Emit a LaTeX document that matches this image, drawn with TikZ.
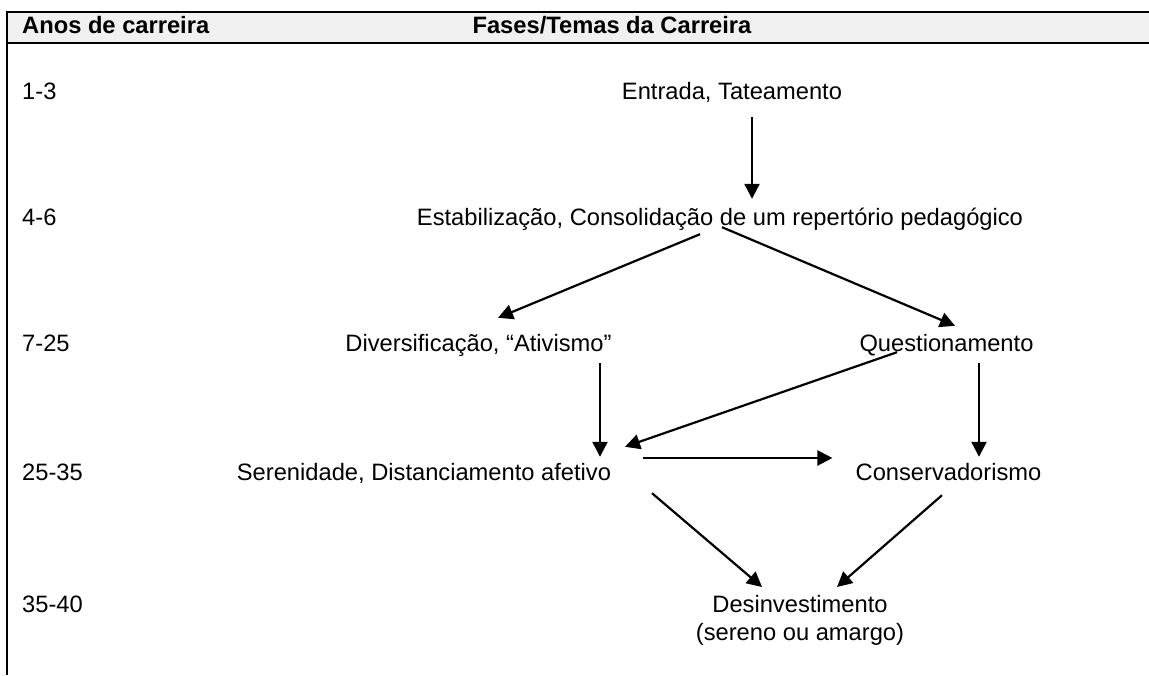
\documentclass[tikz,border=0pt]{standalone}
\usepackage{fontspec}
\setmainfont{Liberation Sans}
\usetikzlibrary{arrows.meta,positioning}

\begin{document}
\begin{tikzpicture}[x=1pt, y=-1pt,
    every node/.style={inner sep=0pt, text height=17pt, text depth=5pt,
      font=\fontsize{23.7}{28}\selectfont},
    phase/.style={anchor=base},
    years/.style={anchor=base west},
    head/.style={font=\fontsize{23.7}{28}\selectfont\bfseries},
    arr/.style={-{Triangle[length=15pt,width=15pt]}, line width=2.2pt}]
      %\draw[help lines, step=50] (0,0) grid (1149,675);
      \useasboundingbox (0,0) rectangle (1149,675);

      % header band
      \fill[black!6] (7,12) rectangle (1149,43);
      \draw[line width=2pt] (1149,12) -- (7,12) -- (7,675);
      \draw[line width=2pt] (7,43) -- (1149,43);
      \node [head, years] (hyears) at (22,33) {Anos de carreira};
      \node [head, phase] (hphases) at (612,33) {Fases/Temas da Carreira};

      \node [years] (y1) at (22,99)  {1-3};
      \node [years] (y2) at (22,225) {4-6};
      \node [years] (y3) at (22,351) {7-25};
      \node [years] (y4) at (22,480) {25-35};
      \node [years] (y5) at (22,612) {35-40};

      \node [phase] (entrada) at (732,99)   {Entrada, Tateamento};
      \node [phase] (estab)   at (720,225)  {Estabilização, Consolidação de um repertório pedagógico};
      \node [phase] (divers)  at (478.5,351) {Diversificação, “Ativismo”};
      \node [phase] (quest)   at (946.5,351) {Questionamento};
      \node [phase] (seren)   at (424,480)  {Serenidade, Distanciamento afetivo};
      \node [phase] (conserv) at (948.5,480) {Conservadorismo};
      \node [anchor=north, align=center, text height=, text depth=] (desinv) at (800,595)
            {Desinvestimento\\(sereno ou amargo)};

      \draw[arr] ([shift={(20,13)}]entrada.south) -- ([shift={(32,-9)}]estab.north);
      \draw[arr] ([shift={(-20,4)}]estab.south) -- ([shift={(19.5,-16)}]divers.north);
      \draw[arr] ([shift={(2,-3)}]estab.south) -- ([shift={(8.5,-8)}]quest.north);
      \draw[arr] ([shift={(121.5,7)}]divers.south) -- ([shift={(176,-6)}]seren.north);
      \draw[arr] ([shift={(-49.5,-4)}]quest.south) -- ([shift={(201,-16)}]seren.north);
      \draw[arr] ([shift={(32.5,7)}]quest.south) -- ([shift={(30.5,-6)}]conserv.north);
      \draw[arr] ([shift={(32,-16)}]seren.east) -- ([shift={(-23,-16)}]conserv.west);
      \draw[arr] ([shift={(228,8)}]seren.south) -- ([shift={(-38,-8)}]desinv.north);
      \draw[arr] ([shift={(-6.5,10)}]conserv.south) -- ([shift={(37,-8)}]desinv.north);

\end{tikzpicture}
\end{document}
